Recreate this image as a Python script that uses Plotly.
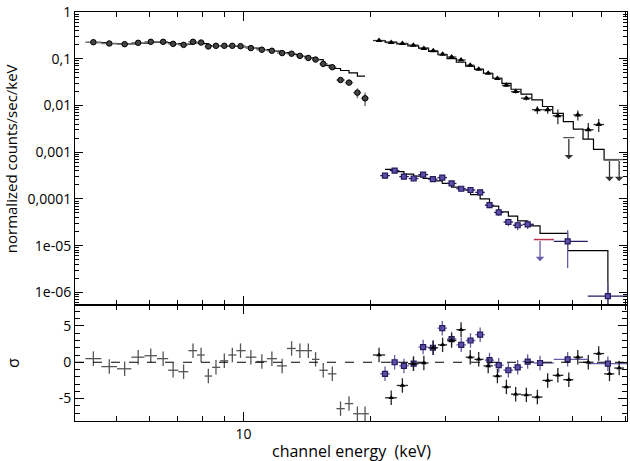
import numpy as np
import plotly.graph_objects as go

# ---------------- data ----------------
# dataset 1: low-energy spectrum (circles)
e1 = [4.42, 4.82, 5.24, 5.64, 6.04, 6.46, 6.82, 7.22, 7.60, 7.94, 8.26, 8.61, 9.01, 9.41, 9.84,
      10.41, 11.05, 11.67, 12.34, 12.99, 13.59, 14.23, 14.80, 15.43, 16.21, 16.95, 17.75, 18.58, 19.37]
f1 = [0.226, 0.212, 0.205, 0.219, 0.230, 0.230, 0.208, 0.198, 0.230, 0.222, 0.183, 0.189, 0.189, 0.189, 0.186,
      0.169, 0.156, 0.148, 0.132, 0.128, 0.115, 0.104, 0.096, 0.0775, 0.0658, 0.0350, 0.0308, 0.0188, 0.0142]
err1 = [0.008, 0.008, 0.008, 0.008, 0.008, 0.008, 0.008, 0.008, 0.008, 0.008, 0.007, 0.007, 0.007, 0.007, 0.007,
        0.006, 0.006, 0.006, 0.005, 0.005, 0.005, 0.004, 0.004, 0.004, 0.004, 0.003, 0.003, 0.0045, 0.0045]
m1 = [0.222, 0.210, 0.208, 0.215, 0.224, 0.222, 0.210, 0.205, 0.218, 0.210, 0.190, 0.189, 0.186, 0.184, 0.178,
      0.168, 0.156, 0.146, 0.135, 0.124, 0.113, 0.104, 0.096, 0.072, 0.0618, 0.056, 0.0499, 0.0425, 0.0425]
r1 = [0.5, -0.6, -0.9, 0.7, 0.9, 0.5, -1.1, -1.3, 1.6, 1.0, -1.9, -0.7, 0.2, 1.0, 1.6,
      0.7, 0.1, 0.5, -0.5, 1.9, 1.6, 1.6, 0.4, -1.1, -1.6, -6.4, -5.7, -7.1, -7.1]

# dataset 2: high-energy spectrum (black)
e2 = [20.90, 22.33, 23.73, 25.19, 26.67, 28.07, 29.53, 31.01, 32.65, 34.32, 35.94, 37.84, 39.79,
      41.78, 43.94, 46.57, 49.44, 52.29, 55.27, 58.67, 61.60, 65.22, 69.02, 73.19, 77.14]
f2 = [0.245, 0.222, 0.212, 0.195, 0.166, 0.148, 0.124, 0.109, 0.0939, 0.0725, 0.0597, 0.0491, 0.0379,
      0.0270, 0.0198, 0.0143, 0.00811, 0.00811, 0.00605, 0.00205, 0.00627, 0.00302, 0.00391, 0.000695, 0.000695]
err2 = [0.010, 0.010, 0.010, 0.009, 0.008, 0.007, 0.006, 0.006, 0.005, 0.004, 0.004, 0.003, 0.0025,
        0.002, 0.0018, 0.0015, 0.0015, 0.0015, 0.0021, 0.0, 0.0015, 0.0012, 0.0012, 0.0, 0.0]
ul2 = [False] * 19 + [True] + [False] * 3 + [True, True]
m2 = [0.245, 0.226, 0.208, 0.189, 0.168, 0.143, 0.122, 0.1005, 0.084, 0.069, 0.0589, 0.0483, 0.0379,
      0.0298, 0.0222, 0.0174, 0.0132, 0.0095, 0.0068, 0.0045, 0.0031, 0.0019, 0.00115, 0.00068, 0.00068]
r2 = [1.0, -4.9, -3.2, -0.2, -0.1, 2.0, 2.4, 3.0, 4.5, 0.7, 0.4, -0.5, -1.9,
      -3.4, -4.4, -4.5, -4.8, -2.5, -1.8, -2.4, 0.7, 0.0, 1.2, -1.6, -0.8]

# dataset 3: second high-energy spectrum (purple)
e3 = [21.59, 22.75, 23.93, 25.23, 26.56, 28.01, 29.48, 31.01, 32.68, 34.37, 36.22, 38.11, 40.07,
      42.23, 44.42, 46.90, 50.17, 58.29, 72.55]
f3 = [3.15e-4, 4.03e-4, 3.0e-4, 2.73e-4, 3.31e-4, 2.65e-4, 2.86e-4, 2.14e-4, 1.65e-4, 1.55e-4, 1.38e-4,
      7.33e-5, 5.13e-5, 3.2e-5, 2.73e-5, 2.86e-5, 1.35e-5, 1.23e-5, 8.3e-7]
err3 = [4e-5, 5e-5, 4e-5, 3.5e-5, 4e-5, 3e-5, 3e-5, 2.5e-5, 2e-5, 2e-5, 1.8e-5,
        1.0e-5, 8e-6, 6e-6, 6e-6, 6e-6, 0.0, 9e-6, 8e-7]
ul3 = [False] * 16 + [True] + [False] * 2
m3 = [4.3e-4, 3.85e-4, 3.4e-4, 3.07e-4, 2.75e-4, 2.42e-4, 2.15e-4, 1.78e-4, 1.55e-4, 1.23e-4, 1.0e-4,
      7.0e-5, 5.3e-5, 4.3e-5, 3.37e-5, 2.65e-5, 1.83e-5, 7.8e-6, 4.0e-7]
r3 = [-1.6, 0.0, -0.5, -0.2, 2.1, 2.0, 4.7, 3.2, 2.4, 3.0, 3.8, 0.3, -0.4, -1.1, -0.7, 0.1, -0.1, 0.4, -0.2]

y_tickvals = [1e-6, 1e-5, 1e-4, 1e-3, 1e-2, 1e-1, 1]
y_ticktext = ["1e-06", "1e-05", "0,0001", "0,001", "0,01", "0,1", "1"]
x_tickvals = [10]
x_ticktext = ["10"]
r_tickvals = [-5, 0, 5]
r_ticktext = ["-5", "0", "5"]

# ---------------- styling ----------------
FONT = "Open Sans"
ARROW = 2.9          # length of upper-limit arrows (factor in flux)
PURPLE = "#6a5aa8"
PURPLE_D = "#241a5c"
GRAY = "#7a7a7a"


def bins(e):
    lg = np.log10(np.asarray(e, float))
    mid = (lg[1:] + lg[:-1]) / 2
    lo = np.concatenate([[2 * lg[0] - mid[0]], mid])
    hi = np.concatenate([mid, [2 * lg[-1] - mid[-1]]])
    e = np.asarray(e, float)
    return 10 ** hi - e, e - 10 ** lo


def sel(arr, mask, keep=True):
    return [a for a, m in zip(arr, mask) if m != keep]


fig = go.Figure()

# ---- model step lines (top panel) ----
for e, m, shape in [(e1, m1, "hv"), (e2, m2, "hvh"), (e3, m3, "hv")]:
    fig.add_trace(go.Scatter(x=e, y=m, mode="lines", line=dict(color="black", width=1.2, shape=shape),
                             xaxis="x", yaxis="y", showlegend=False, hoverinfo="skip"))

# ---- dataset 1 ----
xp1, xm1 = bins(e1)
fig.add_trace(go.Scatter(
    x=e1, y=f1, mode="markers", xaxis="x", yaxis="y", showlegend=False,
    marker=dict(symbol="circle", size=5.5, color="#444444", line=dict(color="black", width=1)),
    error_y=dict(type="data", array=err1, color=GRAY, thickness=1.6, width=0),
    error_x=dict(type="data", array=list(xp1), arrayminus=list(xm1), color=GRAY, thickness=1.6, width=0)))

# ---- dataset 2 ----
xp2, xm2 = bins(e2)
nul2 = [not u for u in ul2]
fig.add_trace(go.Scatter(
    x=sel(e2, nul2, False), y=sel(f2, nul2, False), mode="markers", xaxis="x", yaxis="y", showlegend=False,
    marker=dict(symbol="triangle-up", size=6, color="black"),
    error_y=dict(type="data", array=sel(err2, nul2, False), color="#333333", thickness=1.3, width=0),
    error_x=dict(type="data", array=sel(list(xp2), nul2, False), arrayminus=sel(list(xm2), nul2, False),
                 color="#333333", thickness=1.3, width=0)))
fig.add_trace(go.Scatter(
    x=sel(e2, ul2, False), y=sel(f2, ul2, False), mode="markers", xaxis="x", yaxis="y", showlegend=False,
    marker=dict(symbol="line-ew", size=8, line=dict(color="#555555", width=1.3))))

# ---- dataset 3 ----
xp3, xm3 = bins(e3)
nul3 = [not u for u in ul3]
fig.add_trace(go.Scatter(
    x=sel(e3, nul3, False), y=sel(f3, nul3, False), mode="markers", xaxis="x", yaxis="y", showlegend=False,
    marker=dict(symbol="square", size=5, color="#5e4fa8", line=dict(color=PURPLE_D, width=1.2)),
    error_y=dict(type="data", array=sel(err3, nul3, False), color=PURPLE, thickness=1.3, width=0),
    error_x=dict(type="data", array=sel(list(xp3), nul3, False), arrayminus=sel(list(xm3), nul3, False),
                 color=PURPLE_D, thickness=1.3, width=0)))
fig.add_trace(go.Scatter(
    x=sel(e3, ul3, False), y=sel(f3, ul3, False), mode="markers", xaxis="x", yaxis="y", showlegend=False,
    marker=dict(size=1, color="rgba(0,0,0,0)"),
    error_x=dict(type="data", array=sel(list(xp3), ul3, False), arrayminus=sel(list(xm3), ul3, False),
                 color="#b8324a", thickness=1.5, width=0)))

# ---- residuals ----
fig.add_trace(go.Scatter(
    x=e1, y=r1, mode="markers", xaxis="x2", yaxis="y2", showlegend=False,
    marker=dict(size=1, color="rgba(0,0,0,0)"),
    error_y=dict(type="constant", value=1, color="#555555", thickness=1.3, width=0),
    error_x=dict(type="data", array=list(xp1), arrayminus=list(xm1), color="#555555", thickness=1.3, width=0)))
fig.add_trace(go.Scatter(
    x=e3, y=r3, mode="markers", xaxis="x2", yaxis="y2", showlegend=False,
    marker=dict(symbol="square", size=5, color="#5e4fa8", line=dict(color=PURPLE_D, width=1.2)),
    error_y=dict(type="constant", value=1, color=PURPLE, thickness=1.3, width=0),
    error_x=dict(type="data", array=list(xp3), arrayminus=list(xm3), color=PURPLE, thickness=1.3, width=0)))
fig.add_trace(go.Scatter(
    x=e2, y=r2, mode="markers", xaxis="x2", yaxis="y2", showlegend=False,
    marker=dict(symbol="triangle-up", size=5, color="black"),
    error_y=dict(type="constant", value=1, color="#222222", thickness=1.3, width=0),
    error_x=dict(type="data", array=list(xp2), arrayminus=list(xm2), color="#222222", thickness=1.3, width=0)))

# ---- upper-limit arrows ----
annotations = []
for e, f, u, col in [(e2, f2, ul2, "#333333"), (e3, f3, ul3, PURPLE)]:
    for ee, ff, uu in zip(e, f, u):
        if uu:
            annotations.append(dict(
                x=np.log10(ee), y=np.log10(ff / ARROW), ax=np.log10(ee), ay=np.log10(ff),
                xref="x", yref="y", axref="x", ayref="y", text="", showarrow=True,
                arrowhead=1, arrowsize=1.1, arrowwidth=1.3, arrowcolor=col, standoff=0, startstandoff=0))

# ---- titles ----
annotations += [
    dict(text="normalized counts/sec/keV", xref="paper", yref="paper", x=-0.1145, y=0.642,
         textangle=-90, showarrow=False, xanchor="center", yanchor="middle",
         font=dict(family=FONT, size=15, color="black")),
    dict(text="σ", xref="paper", yref="paper", x=-0.112, y=0.142,
         textangle=-90, showarrow=False, xanchor="center", yanchor="middle",
         font=dict(family=FONT, size=16, color="black")),
    dict(text="channel energy\u00a0 (keV)", xref="paper", yref="paper", x=0.5, y=-0.074,
         showarrow=False, xanchor="center", yanchor="middle",
         font=dict(family=FONT, size=16, color="black")),
]

xr = [np.log10(4.0), np.log10(80.5)]
x_minor = [5, 6, 7, 8, 9, 20, 30, 40, 50, 60, 70, 80]
y_minor = [k * 10.0 ** p for p in range(-7, 0) for k in range(2, 10)]
common = dict(showline=True, linecolor="black", linewidth=1, mirror="allticks", ticks="inside",
              tickcolor="black", tickwidth=1, showgrid=False, zeroline=False, ticklabeloverflow="allow")

fig.update_layout(
    width=630, height=461, paper_bgcolor="white", plot_bgcolor="white",
    margin=dict(l=75, r=2, t=5, b=40),
    font=dict(family=FONT, size=14, color="black"),
    xaxis=dict(type="log", range=xr, domain=[0, 1], anchor="y", tickvals=x_tickvals, ticklen=9,
               showticklabels=False,
               minor=dict(tickvals=x_minor, ticks="inside", ticklen=5, tickcolor="black"), **common),
    xaxis2=dict(type="log", range=xr, domain=[0, 1], anchor="y2", tickvals=x_tickvals, ticktext=x_ticktext,
                ticklen=9, tickfont=dict(size=14),
                minor=dict(tickvals=x_minor, ticks="inside", ticklen=5, tickcolor="black"), **common),
    yaxis=dict(type="log", range=[-6.27, 0], domain=[0.2837, 1], anchor="x", tickvals=y_tickvals,
               ticktext=y_ticktext, ticklen=8, tickfont=dict(size=14),
               minor=dict(tickvals=y_minor, ticks="inside", ticklen=4, tickcolor="black"), **common),
    yaxis2=dict(range=[-8.1, 7.9], domain=[0, 0.2837], anchor="x2", tickvals=r_tickvals, ticktext=r_ticktext,
                ticklen=9, tickfont=dict(size=14),
                minor=dict(dtick=1, ticks="inside", ticklen=5, tickcolor="black"), **common),
    annotations=annotations,
    shapes=[dict(type="line", xref="x2 domain", yref="y2", x0=0, x1=1, y0=0, y1=0,
                 line=dict(color="black", width=1, dash="dash"))],
)

fig.write_html("out.html", config={"displayModeBar": False},
               post_script="document.body.style.margin='0';document.body.style.overflow='hidden';")
